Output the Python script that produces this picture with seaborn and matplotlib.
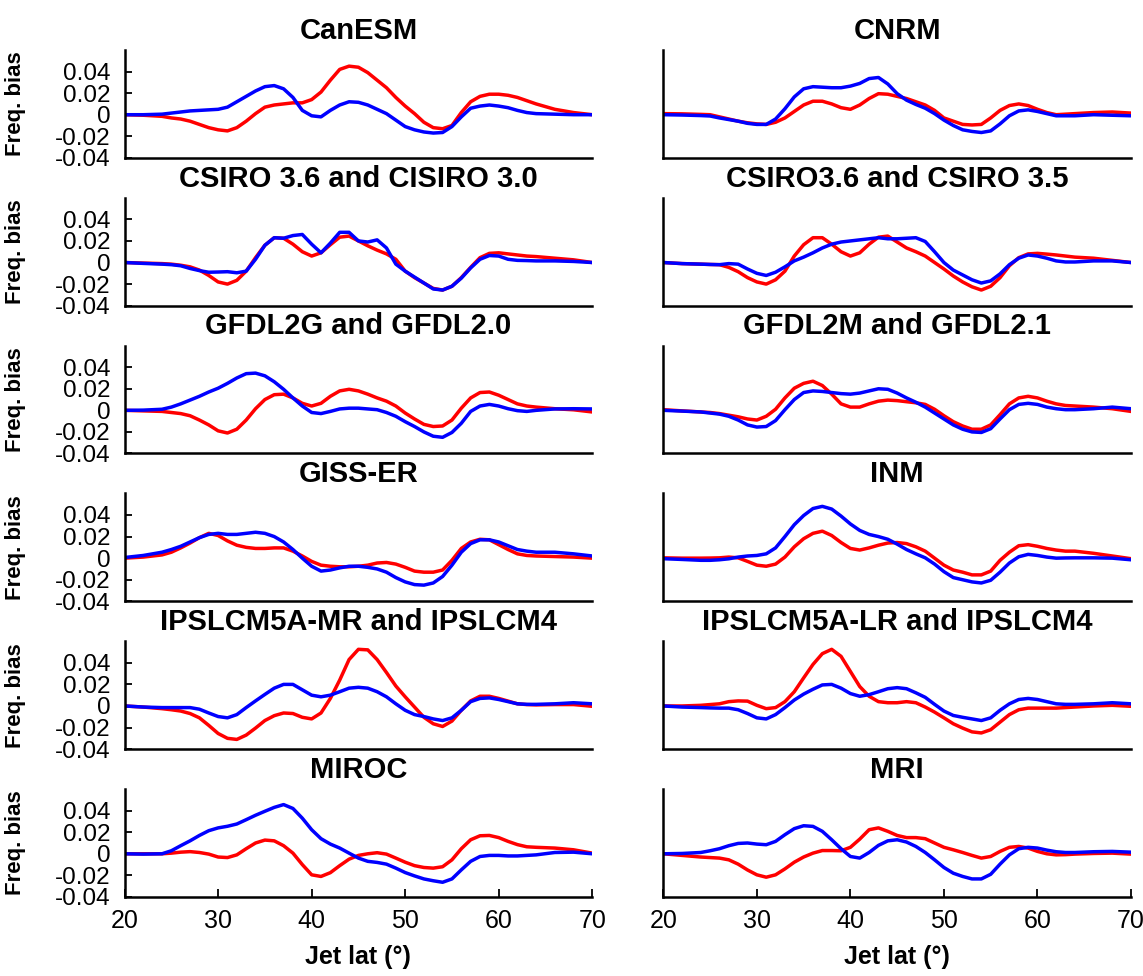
import matplotlib
matplotlib.use("Agg")
import matplotlib.pyplot as plt
import seaborn as sns

# ---------------- data ----------------
lat = [20, 22, 24, 25, 26, 27, 28, 29, 30, 31, 32, 33, 34, 35, 36, 37, 38, 39, 40, 41,
       42, 43, 44, 45, 46, 47, 48, 49, 50, 51, 52, 53, 54, 55, 56, 57, 58, 59, 60, 61,
       62, 63, 64, 66, 68, 70]

titles = ["CanESM", "CNRM",
          "CSIRO 3.6 and CISIRO 3.0", "CSIRO3.6 and CSIRO 3.5",
          "GFDL2G and GFDL2.0", "GFDL2M and GFDL2.1",
          "GISS-ER", "INM",
          "IPSLCM5A-MR and IPSLCM4", "IPSLCM5A-LR and IPSLCM4",
          "MIROC", "MRI"]

canesm_red = [0, -0.0005, -0.0015, -0.003, -0.004, -0.006, -0.009, -0.012, -0.014, -0.015, -0.012, -0.006, 0.001, 0.007, 0.009, 0.010, 0.011, 0.011, 0.014, 0.021,
              0.032, 0.042, 0.045, 0.044, 0.039, 0.032, 0.025, 0.016, 0.008, 0.001, -0.007, -0.012, -0.013, -0.010, 0.002, 0.012, 0.017, 0.019, 0.019, 0.018,
              0.016, 0.013, 0.010, 0.005, 0.002, 0.0]
canesm_blue = [0, 0, 0.0005, 0.0015, 0.0025, 0.0035, 0.004, 0.0045, 0.005, 0.007, 0.012, 0.017, 0.022, 0.026, 0.027, 0.024, 0.016, 0.004, -0.001, -0.002,
               0.004, 0.009, 0.012, 0.0115, 0.009, 0.005, 0.001, -0.005, -0.011, -0.014, -0.016, -0.017, -0.0165, -0.011, -0.002, 0.006, 0.008, 0.009, 0.008, 0.0065,
               0.004, 0.002, 0.001, 0.0005, 0.0, 0.0]

cnrm_red = [0.001, 0.0008, 0.0003, 0, -0.002, -0.004, -0.006, -0.0075, -0.0085, -0.009, -0.007, -0.003, 0.003, 0.009, 0.0125, 0.0125, 0.010, 0.0065, 0.005, 0.009,
            0.015, 0.0195, 0.019, 0.017, 0.015, 0.012, 0.009, 0.004, -0.003, -0.006, -0.009, -0.0095, -0.009, -0.003, 0.004, 0.0085, 0.010, 0.0085, 0.005, 0.002,
            0, 0.0005, 0.001, 0.002, 0.0025, 0.0015]
cnrm_blue = [0, -0.0003, -0.0008, -0.0012, -0.003, -0.0045, -0.006, -0.008, -0.009, -0.009, -0.004, 0.0055, 0.0165, 0.024, 0.026, 0.0255, 0.025, 0.025, 0.0265, 0.029,
             0.0335, 0.0345, 0.0285, 0.0195, 0.0135, 0.0095, 0.006, 0.001, -0.005, -0.010, -0.014, -0.0155, -0.0165, -0.015, -0.0085, -0.001, 0.0035, 0.0045, 0.003, 0.001,
             -0.001, -0.001, -0.001, 0, -0.0005, -0.001]

csiro30_red = [0, -0.0005, -0.001, -0.0015, -0.0025, -0.004, -0.007, -0.012, -0.018, -0.020, -0.0165, -0.008, 0.0045, 0.016, 0.023, 0.0225, 0.017, 0.010, 0.006, 0.009,
               0.0165, 0.0235, 0.0245, 0.020, 0.0155, 0.0115, 0.008, 0.003, -0.008, -0.014, -0.019, -0.024, -0.0255, -0.022, -0.014, -0.0045, 0.0045, 0.0085, 0.009, 0.008,
               0.007, 0.006, 0.0055, 0.004, 0.0025, 0]
csiro30_blue = [0, -0.0008, -0.0015, -0.002, -0.003, -0.0055, -0.0075, -0.009, -0.0088, -0.0085, -0.0095, -0.008, 0.003, 0.016, 0.023, 0.0225, 0.025, 0.026, 0.017, 0.009,
                0.018, 0.028, 0.028, 0.020, 0.019, 0.021, 0.0135, -0.0015, -0.008, -0.0135, -0.019, -0.0245, -0.0255, -0.022, -0.0145, -0.005, 0.003, 0.0065, 0.006, 0.003,
                0.002, 0.0018, 0.0015, 0.0015, 0.001, 0]

csiro35_red = [0, -0.001, -0.0015, -0.0018, -0.002, -0.0045, -0.0085, -0.014, -0.018, -0.020, -0.016, -0.008, 0.006, 0.0165, 0.023, 0.023, 0.017, 0.010, 0.006, 0.009,
               0.017, 0.0235, 0.0245, 0.019, 0.0135, 0.010, 0.006, 0, -0.006, -0.0125, -0.018, -0.0225, -0.0255, -0.022, -0.014, -0.003, 0.0045, 0.008, 0.0085, 0.0078,
               0.007, 0.006, 0.005, 0.004, 0.002, 0]
csiro35_blue = [0, -0.001, -0.0015, -0.0018, -0.002, -0.001, -0.0015, -0.006, -0.010, -0.012, -0.009, -0.004, 0.0015, 0.005, 0.009, 0.0135, 0.017, 0.019, 0.020, 0.021,
                0.022, 0.023, 0.022, 0.022, 0.0225, 0.023, 0.0195, 0.010, 0, -0.007, -0.0115, -0.016, -0.019, -0.017, -0.0105, -0.002, 0.004, 0.007, 0.006, 0.004,
                0.0015, 0.0005, 0.0005, 0.0015, 0.0015, 0]

gfdl20_red = [0, -0.0005, -0.001, -0.002, -0.003, -0.005, -0.009, -0.0135, -0.019, -0.021, -0.0175, -0.009, 0.0015, 0.010, 0.0145, 0.015, 0.0115, 0.0065, 0.004, 0.0065,
              0.013, 0.018, 0.0195, 0.018, 0.015, 0.0115, 0.0085, 0.004, -0.0025, -0.008, -0.013, -0.015, -0.0145, -0.009, 0.002, 0.0115, 0.0165, 0.017, 0.014, 0.010,
              0.006, 0.004, 0.003, 0.0015, 0.0005, -0.0015]
gfdl20_blue = [0, 0.0002, 0.001, 0.003, 0.006, 0.0095, 0.013, 0.017, 0.0205, 0.025, 0.030, 0.034, 0.0345, 0.032, 0.0265, 0.0195, 0.0115, 0.004, -0.002, -0.003,
               -0.001, 0.0013, 0.002, 0.002, 0.0013, 0.0006, -0.002, -0.0055, -0.0105, -0.015, -0.020, -0.024, -0.025, -0.0205, -0.012, -0.001, 0.004, 0.0055, 0.004, 0.0015,
               -0.0003, -0.001, 0, 0.0013, 0.0015, 0.0013]

gfdl21_red = [0.0006, -0.0005, -0.0015, -0.002, -0.003, -0.0045, -0.006, -0.008, -0.009, -0.0055, 0.001, 0.0115, 0.0205, 0.025, 0.027, 0.023, 0.015, 0.006, 0.003, 0.003,
              0.006, 0.0085, 0.0095, 0.009, 0.008, 0.007, 0.0055, 0.001, -0.005, -0.0105, -0.0145, -0.0175, -0.0175, -0.0135, -0.004, 0.006, 0.0115, 0.013, 0.0115, 0.0085,
              0.006, 0.0045, 0.004, 0.003, 0.0015, -0.001]
gfdl21_blue = [0, -0.0007, -0.0015, -0.0025, -0.0035, -0.0055, -0.009, -0.0135, -0.0155, -0.015, -0.0095, 0.0006, 0.010, 0.0165, 0.018, 0.0175, 0.0165, 0.0155, 0.015, 0.016,
               0.018, 0.020, 0.0195, 0.016, 0.0115, 0.0075, 0.003, -0.0025, -0.008, -0.0135, -0.0175, -0.020, -0.0205, -0.017, -0.008, 0.0006, 0.0055, 0.0065, 0.0055, 0.003,
               0.0015, 0.0006, 0.0006, 0.0015, 0.003, 0.0015]

giss_red = [0, 0.001, 0.003, 0.0055, 0.0095, 0.014, 0.019, 0.023, 0.021, 0.016, 0.012, 0.010, 0.009, 0.009, 0.0095, 0.0095, 0.0065, 0.002, -0.003, -0.0065,
            -0.0075, -0.008, -0.008, -0.0075, -0.0065, -0.0045, -0.004, -0.0055, -0.0085, -0.012, -0.013, -0.013, -0.011, -0.002, 0.009, 0.015, 0.0175, 0.017, 0.0125, 0.008,
            0.004, 0.0025, 0.002, 0.0015, 0.001, 0]
giss_blue = [0.0006, 0.0025, 0.0055, 0.008, 0.011, 0.015, 0.019, 0.022, 0.023, 0.022, 0.022, 0.023, 0.024, 0.023, 0.020, 0.015, 0.008, 0, -0.0075, -0.012,
             -0.011, -0.009, -0.0075, -0.0075, -0.0085, -0.010, -0.013, -0.018, -0.022, -0.0245, -0.025, -0.023, -0.017, -0.0065, 0.0055, 0.0135, 0.017, 0.017, 0.015, 0.0115,
             0.008, 0.0065, 0.0055, 0.0055, 0.004, 0.002]

inm_red = [0.0003, 0, 0, 0.0001, 0.0003, 0.001, 0.0003, -0.003, -0.0065, -0.0075, -0.0055, 0.001, 0.0105, 0.018, 0.023, 0.025, 0.021, 0.0145, 0.009, 0.0075,
           0.0095, 0.012, 0.014, 0.0145, 0.0135, 0.0105, 0.0065, 0, -0.0065, -0.011, -0.013, -0.0155, -0.0155, -0.012, -0.002, 0.0055, 0.0115, 0.0125, 0.011, 0.009,
           0.0075, 0.0065, 0.0065, 0.0045, 0.002, -0.0005]
inm_blue = [-0.0005, -0.0012, -0.002, -0.002, -0.0015, -0.0006, 0.001, 0.002, 0.0025, 0.004, 0.0095, 0.020, 0.031, 0.0395, 0.046, 0.048, 0.0455, 0.039, 0.0317, 0.0257,
            0.022, 0.020, 0.0175, 0.013, 0.008, 0.004, 0.0003, -0.0055, -0.0125, -0.018, -0.020, -0.022, -0.023, -0.0205, -0.013, -0.0045, 0.0013, 0.0035, 0.0025, 0.001,
            0, 0.0002, 0.0003, 0.0003, 0, -0.0015]

ipslmr_red = [0, -0.001, -0.0025, -0.0035, -0.0047, -0.007, -0.011, -0.018, -0.0255, -0.030, -0.031, -0.027, -0.0205, -0.0135, -0.009, -0.0065, -0.007, -0.0105, -0.012, -0.0065,
              0.007, 0.024, 0.043, 0.0525, 0.052, 0.043, 0.031, 0.0185, 0.0085, -0.001, -0.0105, -0.0165, -0.019, -0.014, -0.004, 0.0047, 0.009, 0.009, 0.007, 0.0045,
              0.002, 0.0013, 0.001, 0.0013, 0.0013, -0.0003]
ipslmr_blue = [0, -0.001, -0.0015, -0.0015, -0.0015, -0.0015, -0.003, -0.0065, -0.0098, -0.011, -0.008, -0.0015, 0.0047, 0.0107, 0.0165, 0.020, 0.020, 0.015, 0.010, 0.0085,
               0.010, 0.0132, 0.0165, 0.0173, 0.0165, 0.0132, 0.0085, 0.002, -0.004, -0.008, -0.0098, -0.012, -0.0135, -0.011, -0.004, 0.004, 0.007, 0.0075, 0.006, 0.004,
               0.002, 0.0015, 0.0015, 0.002, 0.003, 0.002]

ipsllr_red = [0, 0, 0.0006, 0.0013, 0.002, 0.004, 0.0047, 0.0045, 0.0006, -0.0025, -0.0015, 0.004, 0.0132, 0.026, 0.0385, 0.0485, 0.0525, 0.046, 0.032, 0.018,
              0.009, 0.004, 0.003, 0.003, 0.004, 0.003, -0.001, -0.0057, -0.011, -0.0165, -0.0205, -0.024, -0.025, -0.022, -0.015, -0.008, -0.0035, -0.002, -0.002, -0.002,
              -0.002, -0.0015, -0.001, 0, 0.0006, -0.0003]
ipsllr_blue = [0, -0.001, -0.0015, -0.0018, -0.002, -0.002, -0.0035, -0.007, -0.011, -0.012, -0.008, -0.0015, 0.0055, 0.011, 0.0155, 0.0195, 0.020, 0.0165, 0.0115, 0.009,
               0.0105, 0.0132, 0.016, 0.017, 0.016, 0.0122, 0.008, 0.0015, -0.0047, -0.0088, -0.0105, -0.012, -0.0135, -0.011, -0.004, 0.002, 0.006, 0.007, 0.006, 0.004,
               0.002, 0.0015, 0.0015, 0.002, 0.003, 0.002]

miroc_red = [0, 0, 0, 0.0006, 0.0015, 0.002, 0.0012, -0.0003, -0.003, -0.0035, -0.001, 0.0047, 0.010, 0.0127, 0.012, 0.0075, 0.0006, -0.010, -0.0195, -0.021,
             -0.0175, -0.011, -0.005, -0.0015, 0, 0.001, -0.0003, -0.004, -0.0078, -0.011, -0.0127, -0.0133, -0.012, -0.0056, 0.0047, 0.013, 0.0167, 0.017, 0.015, 0.0115,
             0.0085, 0.0065, 0.006, 0.0053, 0.0037, 0.0006]
miroc_blue = [0, -0.0003, 0, 0.0028, 0.0075, 0.012, 0.017, 0.0214, 0.024, 0.0255, 0.0276, 0.0316, 0.0357, 0.0394, 0.043, 0.0456, 0.042, 0.033, 0.0223, 0.014,
              0.009, 0.0053, 0.0006, -0.004, -0.007, -0.008, -0.0096, -0.0133, -0.0174, -0.0205, -0.0233, -0.025, -0.0264, -0.0233, -0.0149, -0.007, -0.0025, -0.0015, -0.0015, -0.002,
              -0.002, -0.0015, -0.001, 0.0012, 0.0015, 0]

mri_red = [0, -0.0015, -0.003, -0.0035, -0.004, -0.0056, -0.0096, -0.015, -0.0195, -0.0217, -0.0195, -0.014, -0.0078, -0.003, 0.0006, 0.003, 0.003, 0.0028, 0.006, 0.0136,
           0.0223, 0.024, 0.0208, 0.017, 0.015, 0.015, 0.014, 0.010, 0.006, 0.0037, 0.0012, -0.0015, -0.004, -0.0025, 0.0022, 0.006, 0.0068, 0.0053, 0.0022, 0,
           -0.001, -0.0008, -0.0003, 0.0003, 0.0006, -0.0003]
mri_blue = [0, 0.0003, 0.0012, 0.0028, 0.0047, 0.0075, 0.0096, 0.010, 0.009, 0.0084, 0.0115, 0.0177, 0.0233, 0.026, 0.0254, 0.0208, 0.013, 0.0047, -0.0025, -0.004,
            0.0012, 0.0078, 0.012, 0.013, 0.0109, 0.0068, 0.0012, -0.0056, -0.0127, -0.018, -0.021, -0.0233, -0.0233, -0.019, -0.0096, -0.001, 0.0047, 0.006, 0.0053, 0.0034,
            0.0019, 0.0012, 0.0012, 0.0019, 0.0022, 0.0015]

red_series = [canesm_red, cnrm_red, csiro30_red, csiro35_red, gfdl20_red, gfdl21_red,
              giss_red, inm_red, ipslmr_red, ipsllr_red, miroc_red, mri_red]
blue_series = [canesm_blue, cnrm_blue, csiro30_blue, csiro35_blue, gfdl20_blue, gfdl21_blue,
               giss_blue, inm_blue, ipslmr_blue, ipsllr_blue, miroc_blue, mri_blue]

ytick_vals = [-0.04, -0.02, 0, 0.02, 0.04]
ytick_labels = ["-0.04", "-0.02", "0", "0.02", "0.04"]
xtick_vals = [20, 30, 40, 50, 60, 70]
xtick_labels = ["20", "30", "40", "50", "60", "70"]

# ---------------- style ----------------
sns.set_theme(style="ticks")
plt.rcParams['font.family'] = ['Liberation Sans', 'DejaVu Sans']
plt.rcParams['axes.linewidth'] = 1.8
plt.rcParams['text.color'] = 'black'
plt.rcParams['axes.labelcolor'] = 'black'
plt.rcParams['xtick.color'] = 'black'
plt.rcParams['ytick.color'] = 'black'
plt.rcParams['axes.edgecolor'] = 'black'

fig, axes = plt.subplots(6, 2, figsize=(11.43, 9.76), dpi=100)
fig.subplots_adjust(left=0.109, right=0.9895, top=0.9488, bottom=0.081,
                    wspace=0.152, hspace=0.37)

for i, ax in enumerate(axes.flat):
    row, col = divmod(i, 2)
    sns.lineplot(x=lat, y=red_series[i], ax=ax, color="#ff0000", linewidth=2.5,
                 estimator=None, legend=False)
    sns.lineplot(x=lat, y=blue_series[i], ax=ax, color="#0000ff", linewidth=2.5,
                 estimator=None, legend=False)
    ax.set_xlim(20, 70)
    ax.set_ylim(-0.04, 0.06)
    ax.set_title(titles[i], fontsize=21, fontweight="bold", pad=8, color='black')
    sns.despine(ax=ax)
    if col == 0:
        ax.set_yticks(ytick_vals, ytick_labels)
        ax.tick_params(axis='y', direction='in', length=5, width=1.3, pad=10,
                       labelsize=17.5, colors='black')
        ax.set_ylabel("Freq. bias", fontsize=16, fontweight="bold")
        ax.yaxis.set_label_coords(-0.21, 0.5)
    else:
        ax.set_yticks([])
        ax.set_ylabel("")
    if row == 5:
        ax.set_xticks(xtick_vals, xtick_labels)
        ax.tick_params(axis='x', direction='in', length=6, width=1.3, pad=9,
                       labelsize=18, colors='black')
        ax.set_xlabel("Jet lat (°)", fontsize=18, fontweight="bold", labelpad=8)
    else:
        ax.set_xticks([])
        ax.set_xlabel("")

fig.savefig("out.png", dpi=100)
